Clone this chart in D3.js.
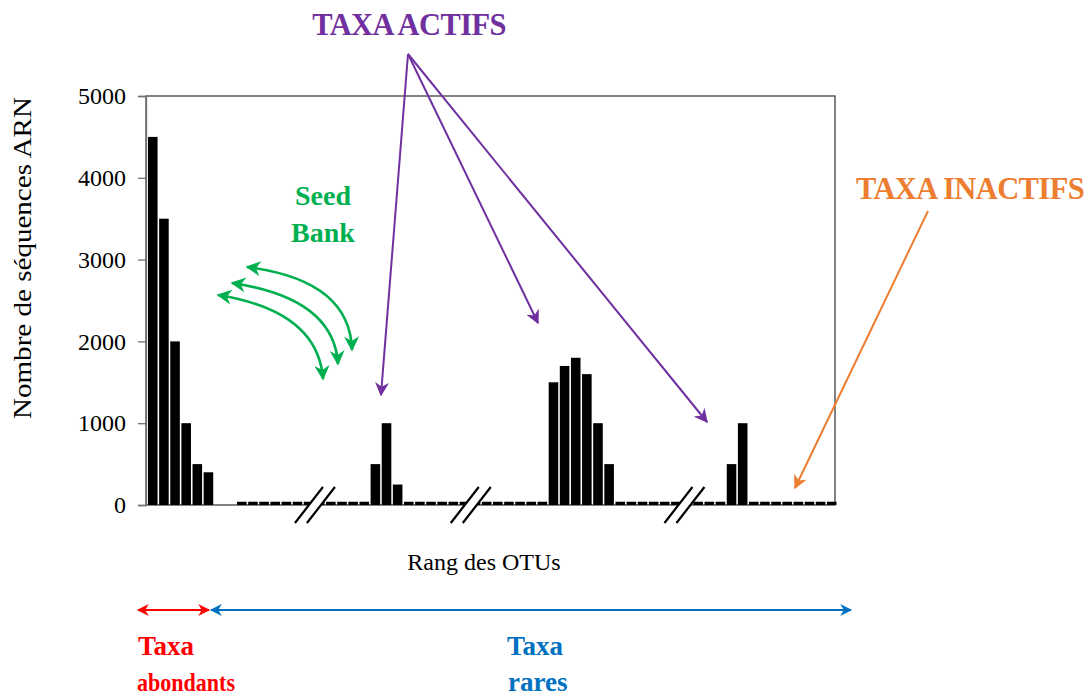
<!DOCTYPE html>
<html><head><meta charset="utf-8">
<script src="https://cdn.jsdelivr.net/npm/d3@7"></script>
<style>body{margin:0;background:#fff}svg{display:block}text{font-family:"Liberation Serif","Times New Roman",serif}</style>
</head><body>
<svg id="c" width="1090" height="696"></svg>
<script>
// ---- data ----
const otuRank = d3.range(62);
const rnaSeqs = [4500,3500,2000,1000,500,400,0,0,
  40,40,40,40,40,40,40,40,40,40,40,40,
  500,1000,250,
  40,40,40,40,40,40,40,40,40,40,40,40,40,
  1500,1700,1800,1600,1000,500,
  40,40,40,40,40,40,40,40,40,40,
  500,1000,
  40,40,40,40,40,40,40,40];
const yTicks = [0,1000,2000,3000,4000,5000];
const axisBreaks = [15, 29, 48.2];

// ---- layout ----
const L=146, R=835, T=96, B=505;
const svg = d3.select("#c");
const x = d3.scaleBand().domain(otuRank).range([148, 836.5]).paddingInner(0.14);
const y = d3.scaleLinear().domain([0,5000]).range([B,T]);
const xs = v => x(0) + v*x.step();

const defs = svg.append("defs");
function marker(id,color,w,h){
  defs.append("marker").attr("id",id).attr("viewBox","0 0 10 10").attr("refX",9).attr("refY",5)
    .attr("markerWidth",w).attr("markerHeight",h).attr("markerUnits","userSpaceOnUse").attr("orient","auto-start-reverse")
    .append("path").attr("d","M0,0 L10,5 L0,10 L3,5 z").attr("fill",color);
}
marker("mp","#7030A0",14,14);
marker("mo","#ED7D31",14,14);
marker("mg","#00B050",16,15);
marker("mr","#FF0000",13,12);
marker("mb","#0070C0",13,12);

// frame
svg.append("rect").attr("x",L).attr("y",T).attr("width",R-L).attr("height",B-T)
  .attr("fill","none").attr("stroke","#404040").attr("stroke-width",1.3);

// y axis
const ya = svg.append("g").attr("transform",`translate(${L},0)`)
  .call(d3.axisLeft(y).tickValues(yTicks).tickSize(8).tickPadding(12).tickFormat(d3.format("d")));
ya.select(".domain").attr("stroke","#707070").attr("stroke-width",1.3);
ya.selectAll(".tick line").attr("stroke","#707070").attr("stroke-width",1.3);
ya.selectAll("text").attr("font-size",24).attr("fill","#000").attr("font-family","Liberation Serif, serif");

// bars
svg.append("g").selectAll("rect").data(otuRank.filter(i=>rnaSeqs[i]>0)).join("rect")
  .attr("x",i=>x(i)).attr("width",x.bandwidth())
  .attr("y",i=>y(rnaSeqs[i])).attr("height",i=>y(0)-y(rnaSeqs[i]))
  .attr("fill","#000");

// axis breaks
const bg = svg.append("g");
axisBreaks.forEach(b=>{
  const cx = xs(b), cy = B;
  const dx = 14, dy = 18, off = 6;
  bg.append("path").attr("d",`M${cx-off-dx},${cy+dy} L${cx-off+dx},${cy-dy} L${cx+off+dx},${cy-dy} L${cx+off-dx},${cy+dy} Z`)
    .attr("fill","#fff");
  [-off,off].forEach(o=>bg.append("line").attr("x1",cx+o-dx).attr("y1",cy+dy).attr("x2",cx+o+dx).attr("y2",cy-dy)
    .attr("stroke","#000").attr("stroke-width",2.2));
});

// axis titles
svg.append("text").attr("x",484).attr("y",570).attr("text-anchor","middle").attr("font-size",24).text("Rang des OTUs");
svg.append("text").attr("transform","translate(31,258) rotate(-90)").attr("text-anchor","middle").attr("font-size",26)
  .attr("textLength",322).attr("lengthAdjust","spacingAndGlyphs").text("Nombre de séquences ARN");

// Seed bank
svg.append("text").attr("x",323).attr("y",205).attr("text-anchor","middle").attr("font-size",28).attr("font-weight","bold").attr("fill","#00B050").text("Seed");
svg.append("text").attr("x",323).attr("y",242).attr("text-anchor","middle").attr("font-size",28).attr("font-weight","bold").attr("fill","#00B050").text("Bank");
const arcs = [
  {p0:[247,267],c:[350,280],p1:[352,350]},
  {p0:[232,283],c:[334,298],p1:[338,364]},
  {p0:[218,295],c:[318,311],p1:[323,379]}
];
svg.append("g").selectAll("path").data(arcs).join("path")
  .attr("d",a=>`M${a.p0[0]},${a.p0[1]} Q${a.c[0]},${a.c[1]} ${a.p1[0]},${a.p1[1]}`)
  .attr("fill","none").attr("stroke","#00B050").attr("stroke-width",2.6)
  .attr("marker-start","url(#mg)").attr("marker-end","url(#mg)");

// Taxa actifs
svg.append("text").attr("x",409).attr("y",35).attr("text-anchor","middle").attr("font-size",30.5).attr("font-weight","bold")
  .attr("fill","#7030A0").attr("letter-spacing",-0.6).text("TAXA ACTIFS");
const orig=[408,54];
[[381,395],[538,323],[707,422]].forEach(t=>{
  svg.append("line").attr("x1",orig[0]).attr("y1",orig[1]).attr("x2",t[0]).attr("y2",t[1])
    .attr("stroke","#7030A0").attr("stroke-width",2).attr("marker-end","url(#mp)");
});

// Taxa inactifs
svg.append("text").attr("x",970).attr("y",199).attr("text-anchor","middle").attr("font-size",30.5).attr("font-weight","bold")
  .attr("fill","#ED7D31").attr("letter-spacing",-0.6).text("TAXA INACTIFS");
svg.append("line").attr("x1",928).attr("y1",211).attr("x2",795).attr("y2",488)
  .attr("stroke","#ED7D31").attr("stroke-width",2).attr("marker-end","url(#mo)");

// bottom range arrows
svg.append("line").attr("x1",138).attr("y1",610).attr("x2",209).attr("y2",610)
  .attr("stroke","#FF0000").attr("stroke-width",2.2).attr("marker-start","url(#mr)").attr("marker-end","url(#mr)");
svg.append("line").attr("x1",211).attr("y1",610).attr("x2",851).attr("y2",610)
  .attr("stroke","#0070C0").attr("stroke-width",2.2).attr("marker-start","url(#mb)").attr("marker-end","url(#mb)");
svg.append("text").attr("x",138).attr("y",655).attr("font-size",27).attr("font-weight","bold").attr("fill","#FF0000").text("Taxa");
svg.append("text").attr("x",137).attr("y",691).attr("font-size",25).attr("font-weight","bold").attr("fill","#FF0000")
  .attr("textLength",98).attr("lengthAdjust","spacingAndGlyphs").text("abondants");
svg.append("text").attr("x",507).attr("y",655).attr("font-size",27).attr("font-weight","bold").attr("fill","#0070C0").text("Taxa");
svg.append("text").attr("x",508).attr("y",691).attr("font-size",27).attr("font-weight","bold").attr("fill","#0070C0").text("rares");
</script>
</body></html>
